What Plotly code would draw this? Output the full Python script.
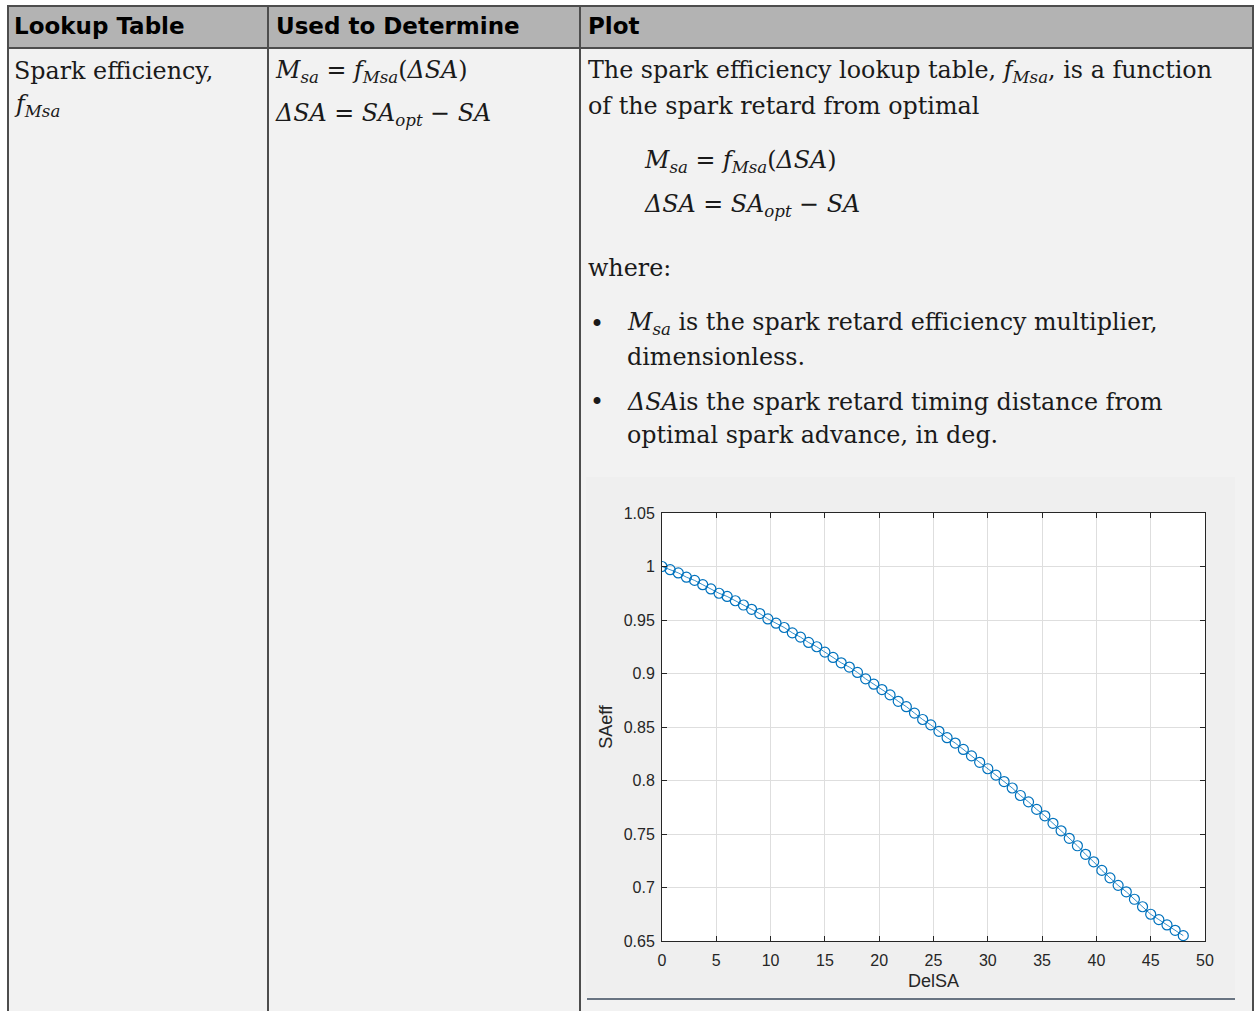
import plotly.graph_objects as go

W, H = 1255, 1011

# ---- data ----
del_sa = [0.00, 0.75, 1.50, 2.25, 3.00, 3.75, 4.50, 5.25, 6.00, 6.75,
          7.50, 8.25, 9.00, 9.75, 10.50, 11.25, 12.00, 12.75, 13.50, 14.25,
          15.00, 15.75, 16.50, 17.25, 18.00, 18.75, 19.50, 20.25, 21.00, 21.75,
          22.50, 23.25, 24.00, 24.75, 25.50, 26.25, 27.00, 27.75, 28.50, 29.25,
          30.00, 30.75, 31.50, 32.25, 33.00, 33.75, 34.50, 35.25, 36.00, 36.75,
          37.50, 38.25, 39.00, 39.75, 40.50, 41.25, 42.00, 42.75, 43.50, 44.25,
          45.00, 45.75, 46.50, 47.25, 48.00]
sa_eff = [1.000, 0.997, 0.994, 0.990, 0.987, 0.983, 0.979, 0.975, 0.972, 0.968,
          0.964, 0.960, 0.956, 0.951, 0.947, 0.943, 0.938, 0.934, 0.929, 0.925,
          0.920, 0.915, 0.910, 0.906, 0.901, 0.895, 0.890, 0.885, 0.880, 0.874,
          0.869, 0.863, 0.857, 0.852, 0.846, 0.840, 0.835, 0.829, 0.823, 0.817,
          0.811, 0.805, 0.799, 0.793, 0.786, 0.780, 0.773, 0.767, 0.760, 0.753,
          0.746, 0.739, 0.731, 0.724, 0.716, 0.709, 0.702, 0.696, 0.689, 0.682,
          0.675, 0.670, 0.665, 0.660, 0.655]
x_ticks = [0, 5, 10, 15, 20, 25, 30, 35, 40, 45, 50]
y_ticks = [0.65, 0.70, 0.75, 0.80, 0.85, 0.90, 0.95, 1.00, 1.05]
y_tick_labels = ["0.65", "0.7", "0.75", "0.8", "0.85", "0.9", "0.95", "1", "1.05"]
x_label = "DelSA"
y_label = "SAeff"

header_cells = ["Lookup Table", "Used to Determine", "Plot"]


def px(x):
    return x / W


def py(y):
    return 1 - y / H


fMsa = "<i>f</i><sub><i>Msa</i></sub>"
Msa = "<i>M</i><sub><i>sa</i></sub>"
dSA = "<i>ΔSA</i>"
eq1 = f"{Msa} = {fMsa}({dSA})"
eq2 = f"{dSA} = <i>SA</i><sub><i>opt</i></sub> − <i>SA</i>"

fig = go.Figure()
fig.add_trace(go.Scatter(
    x=del_sa, y=sa_eff, mode="lines+markers",
    line=dict(color="#0072BD", width=0.8),
    marker=dict(symbol="circle-open", size=10, color="#0072BD",
                line=dict(width=1.2, color="#0072BD")),
    showlegend=False, hoverinfo="x+y"))

BORDER = "#4d4d4d"
shapes = []
# cell backgrounds
shapes.append(dict(type="rect", xref="paper", yref="paper", layer="below",
                   x0=px(7), x1=px(1254), y0=py(1030), y1=py(48),
                   fillcolor="#f2f2f2", line=dict(width=0)))
shapes.append(dict(type="rect", xref="paper", yref="paper", layer="below",
                   x0=px(7), x1=px(1254), y0=py(48), y1=py(6),
                   fillcolor="#b3b3b3", line=dict(width=0)))
# embedded figure background
shapes.append(dict(type="rect", xref="paper", yref="paper", layer="below",
                   x0=px(586), x1=px(1235), y0=py(997), y1=py(477),
                   fillcolor="#efefef", line=dict(width=0)))
# white axes background
shapes.append(dict(type="rect", xref="paper", yref="paper", layer="below",
                   x0=px(662), x1=px(1205), y0=py(941), y1=py(513),
                   fillcolor="#ffffff", line=dict(width=0)))
# table lines
for (x0, y0, x1, y1) in [(7, 6, 1254, 6), (7, 48, 1254, 48),
                         (8, 6, 8, 1030), (268, 6, 268, 1030),
                         (580, 6, 580, 1030), (1253, 6, 1253, 1030)]:
    shapes.append(dict(type="line", xref="paper", yref="paper",
                       x0=px(x0), x1=px(x1), y0=py(y0), y1=py(y1),
                       line=dict(color=BORDER, width=2)))
# rule under figure
shapes.append(dict(type="line", xref="paper", yref="paper",
                   x0=px(587), x1=px(1235), y0=py(999), y1=py(999),
                   line=dict(color="#3b4a5c", width=1.5)))

annotations = []
HFONT = dict(family="DejaVu Sans, sans-serif", size=23, color="#000000")
TFONT = dict(family="DejaVu Serif, serif", size=23.8, color="#1a1a1a")


def txt(x, y, s, font=TFONT):
    annotations.append(dict(xref="paper", yref="paper", x=px(x), y=py(y),
                            xanchor="left", yanchor="middle", text=s,
                            showarrow=False, font=font, align="left"))


for xh, s in zip([12, 274, 586], header_cells):
    txt(xh, 26, f"<b>{s}</b>", HFONT)

txt(12, 71, "Spark efficiency,")
txt(12, 105, fMsa)
txt(273, 71, eq1)
txt(273, 114, eq2)
txt(586, 71, f"The spark efficiency lookup table, {fMsa}, is a function")
txt(586, 106, "of the spark retard from optimal")
txt(642, 162, eq1)
txt(642, 206, eq2)
txt(586, 268, "where:")
txt(588, 324, "•")
txt(625, 324, f"{Msa} is the spark retard efficiency multiplier,")
txt(625, 357, "dimensionless.")
txt(588, 402, "•")
txt(625, 402, f"{dSA}is the spark retard timing distance from")
txt(625, 435, "optimal spark advance, in deg.")

TICKFONT = dict(family="Arial, Liberation Sans, sans-serif", size=16, color="#262626")
AX = dict(showline=True, linecolor="#262626", linewidth=1, mirror="ticks",
          ticks="inside", ticklen=5, tickcolor="#262626", tickwidth=1,
          showgrid=True, gridcolor="#dedede", gridwidth=1, zeroline=False,
          automargin=False, tickfont=TICKFONT)

fig.update_layout(
    template="none",
    width=W, height=H, margin=dict(l=0, r=0, t=0, b=0, pad=0, autoexpand=False),
    paper_bgcolor="#ffffff", plot_bgcolor="rgba(0,0,0,0)",
    showlegend=False,
    shapes=shapes, annotations=annotations,
    xaxis=dict(domain=[px(662), px(1205)], range=[0, 50], tickvals=x_ticks,
               ticklabelstandoff=5,
               title=dict(text=x_label, standoff=6,
                          font=dict(family="Arial, Liberation Sans, sans-serif", size=18, color="#262626")),
               **AX),
    yaxis=dict(domain=[py(941), py(513)], range=[0.65, 1.05], tickvals=y_ticks,
               ticktext=y_tick_labels, ticklabelstandoff=3,
               title=dict(text=y_label, standoff=6,
                          font=dict(family="Arial, Liberation Sans, sans-serif", size=18, color="#262626")),
               **AX),
)

fig.write_html("out.html", config={"displayModeBar": False},
               post_script="document.body.style.margin='0';document.body.style.overflow='hidden';")
